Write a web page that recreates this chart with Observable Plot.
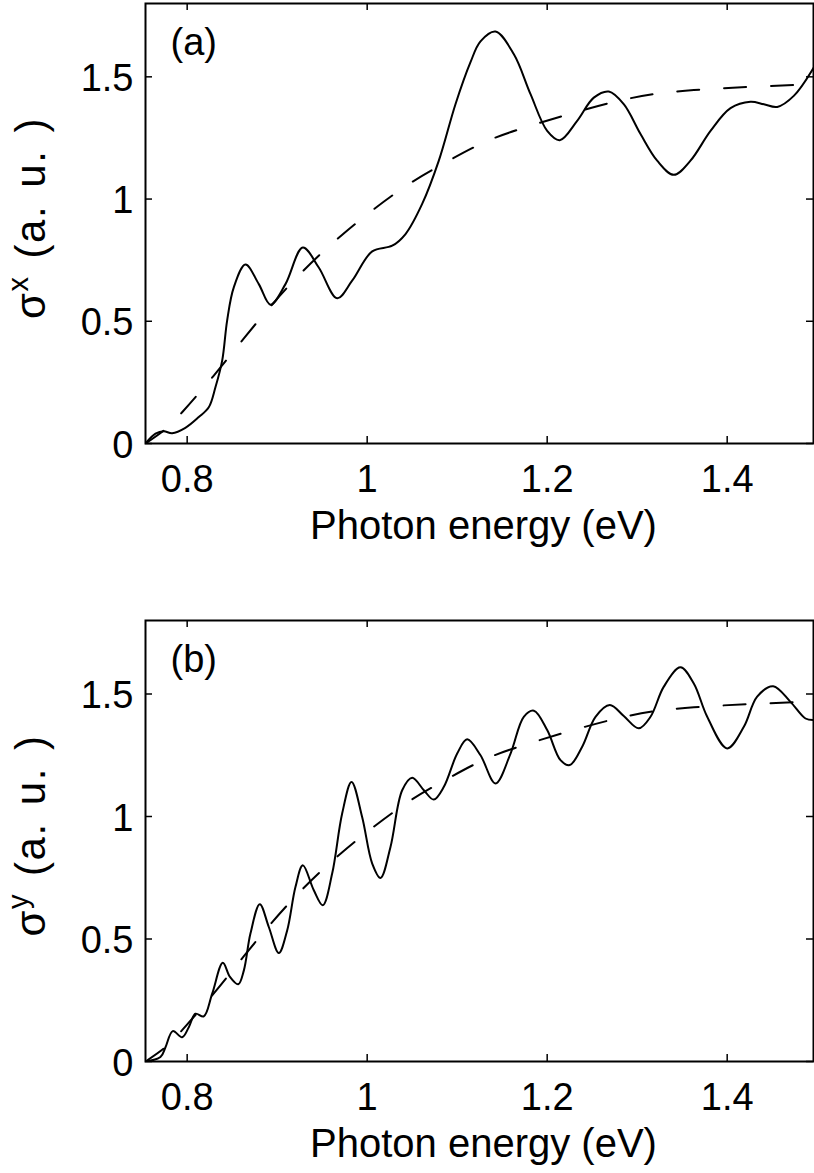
<!DOCTYPE html>
<html><head><meta charset="utf-8">
<script src="https://cdn.jsdelivr.net/npm/d3@7"></script>
<script src="https://cdn.jsdelivr.net/npm/@observablehq/plot@0.6"></script>
<style>body{margin:0;background:#fff;} #chart{width:814px;} svg{display:block;}</style>
</head><body><div id="chart"></div>
<script>
// Axis ticks
const xTicks = [0.8, 1.0, 1.2, 1.4];
const xTickLabels = ["0.8", "1", "1.2", "1.4"];
const yTicks = [0, 0.5, 1, 1.5];
const yTickLabels = ["0", "0.5", "1", "1.5"];
const xDomain = [0.7537, 1.4959];
const yDomain = [0, 1.8];
const xLabel = "Photon energy (eV)";

// Panel (a): sigma^x
const energyA = [0.7537, 0.7648, 0.774, 0.7833, 0.798, 0.8129, 0.824, 0.8314, 0.8389, 0.8444, 0.8518, 0.8648, 0.8796, 0.8926, 0.9092, 0.9285, 0.9462, 0.9667, 0.9833, 1.0056, 1.0278, 1.0426, 1.0611, 1.0796, 1.0981, 1.1148, 1.1259, 1.1426, 1.163, 1.1815, 1.2, 1.214, 1.2333, 1.2518, 1.2685, 1.2851, 1.3037, 1.3222, 1.3407, 1.3592, 1.3815, 1.4037, 1.4259, 1.4407, 1.4556, 1.474, 1.4962];
const sigmaX = [0, 0.04, 0.05, 0.042, 0.064, 0.108, 0.148, 0.23, 0.339, 0.503, 0.639, 0.732, 0.652, 0.568, 0.652, 0.802, 0.72, 0.594, 0.666, 0.786, 0.809, 0.857, 0.98, 1.157, 1.388, 1.56, 1.645, 1.685, 1.592, 1.429, 1.279, 1.241, 1.32, 1.415, 1.44, 1.388, 1.266, 1.157, 1.099, 1.157, 1.279, 1.372, 1.398, 1.388, 1.377, 1.422, 1.538];

// Panel (b): sigma^y
const energyB = [0.7537, 0.7703, 0.7759, 0.784, 0.7944, 0.8018, 0.8092, 0.8184, 0.8278, 0.8396, 0.8476, 0.8567, 0.863, 0.8703, 0.8807, 0.8907, 0.9018, 0.9111, 0.9203, 0.9285, 0.9407, 0.9507, 0.9611, 0.9722, 0.9826, 0.9944, 1.0056, 1.0148, 1.0259, 1.0389, 1.05, 1.063, 1.074, 1.0852, 1.1, 1.1111, 1.1259, 1.1426, 1.1593, 1.174, 1.1852, 1.2, 1.2148, 1.2251, 1.2389, 1.2537, 1.2696, 1.2851, 1.3018, 1.3148, 1.3296, 1.3481, 1.3629, 1.3778, 1.4, 1.4185, 1.4333, 1.4511, 1.4703, 1.487, 1.4962];
const sigmaY = [0, 0.018, 0.058, 0.124, 0.099, 0.14, 0.195, 0.184, 0.277, 0.403, 0.345, 0.315, 0.372, 0.522, 0.642, 0.549, 0.443, 0.535, 0.712, 0.801, 0.699, 0.638, 0.767, 1.012, 1.141, 0.998, 0.808, 0.749, 0.876, 1.107, 1.158, 1.107, 1.069, 1.121, 1.257, 1.315, 1.25, 1.135, 1.257, 1.407, 1.432, 1.353, 1.23, 1.21, 1.285, 1.407, 1.455, 1.41, 1.36, 1.407, 1.53, 1.609, 1.543, 1.407, 1.278, 1.366, 1.489, 1.532, 1.468, 1.4, 1.394];

// Smooth (dashed) reference curve, same in both panels
const envEnergy = [0.7537, 0.774, 0.7944, 0.8296, 0.863, 0.913, 0.972, 1.035, 1.08, 1.126, 1.178, 1.274, 1.363, 1.496];
const envSigma = [0, 0.053, 0.128, 0.278, 0.43, 0.645, 0.853, 1.033, 1.135, 1.225, 1.296, 1.397, 1.446, 1.47];

const FONT = "'Liberation Sans', Arial, Helvetica, sans-serif";

function panel({energy, sigma, tag, sup, height, marginTop, marginBottom}) {
  const W = 814, ML = 145, MR = 1, tk = 7;
  const ph = height - marginTop - marginBottom;
  const pw = W - ML - MR;
  const data = energy.map((e, i) => ({e, s: sigma[i]}));
  const env = envEnergy.map((e, i) => ({e, s: envSigma[i]}));
  const tickStyle = {stroke: "#000", strokeWidth: 1.5};
  const svg = Plot.plot({
    width: W, height, marginLeft: ML, marginRight: MR, marginTop, marginBottom,
    style: {fontFamily: FONT, fontSize: "38px", color: "#000", background: "#fff", overflow: "visible"},
    x: {domain: xDomain},
    y: {domain: yDomain},
    marks: [
      Plot.line(env, {x: "e", y: "s", stroke: "#000", strokeWidth: 2, strokeDasharray: "22,25", curve: "natural", clip: true}),
      Plot.line(data, {x: "e", y: "s", stroke: "#000", strokeWidth: 2, curve: "catmull-rom", clip: true}),
      Plot.tickX(xTicks, {x: d => d, insetTop: ph - tk, ...tickStyle}),
      Plot.tickX(xTicks, {x: d => d, insetBottom: ph - tk, ...tickStyle}),
      Plot.tickY(yTicks, {y: d => d, insetRight: pw - tk, ...tickStyle}),
      Plot.tickY(yTicks, {y: d => d, insetLeft: pw - tk, ...tickStyle}),
      Plot.frame({stroke: "#000", strokeWidth: 2}),
      Plot.axisX(xTicks, {tickSize: 0, tickPadding: 22, tickFormat: d => xTickLabels[xTicks.indexOf(d)], fontSize: 38, label: null}),
      Plot.axisY(yTicks, {tickSize: 0, tickPadding: 12, dy: 2, tickFormat: d => yTickLabels[yTicks.indexOf(d)], fontSize: 38, label: null}),
      Plot.text([tag], {text: d => d, frameAnchor: "top-left", textAnchor: "start", lineAnchor: "bottom", dx: 25, dy: 51, fontSize: 38}),
      Plot.text([xLabel], {text: d => d, frameAnchor: "bottom", textAnchor: "middle", lineAnchor: "bottom", dx: 4, dy: 95, fontSize: 40})
    ]
  });
  // Y-axis label with superscript
  const cy = marginTop + ph / 2 - 5;
  const t = d3.select(svg).append("text")
    .attr("transform", `translate(45,${cy}) rotate(-90)`)
    .attr("text-anchor", "middle")
    .attr("fill", "#000")
    .style("font-family", FONT)
    .style("font-size", "42px")
    .style("letter-spacing", "1.5px")
    .style("word-spacing", "4px");
  t.append("tspan").text("\u03C3");
  t.append("tspan").attr("dy", -17).style("font-size", "29px").text(sup);
  t.append("tspan").attr("dy", 17).text(" (a. u. )");
  return svg;
}

const root = document.getElementById("chart");
root.appendChild(panel({energy: energyA, sigma: sigmaX, tag: "(a)", sup: "x", height: 586, marginTop: 3, marginBottom: 143}));
root.appendChild(panel({energy: energyB, sigma: sigmaY, tag: "(b)", sup: "y", height: 587, marginTop: 34, marginBottom: 112}));
</script>
</body></html>
